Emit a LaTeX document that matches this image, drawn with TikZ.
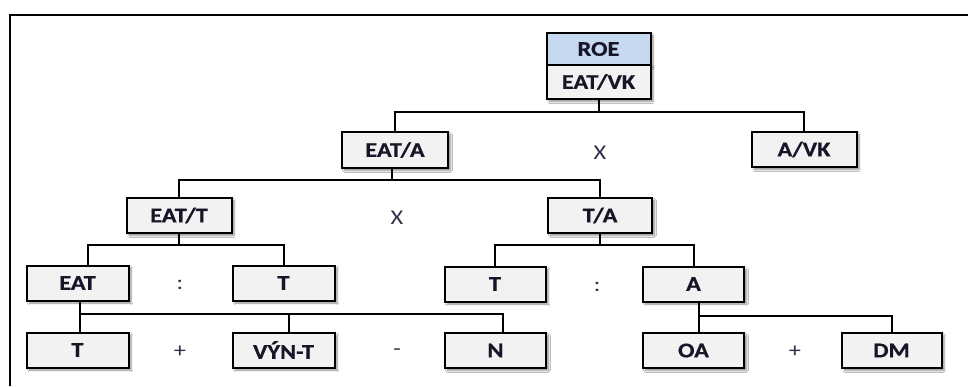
\documentclass[tikz,border=0pt]{standalone}
\usepackage{fontspec}
\setmainfont{Carlito}[FakeStretch=1.16, BoldFeatures={FakeBold=0.6}]
\usetikzlibrary{shadows.blur}
\definecolor{boxfill}{HTML}{F2F2F2}
\definecolor{topfill}{HTML}{C6D9F1}
\definecolor{ink}{HTML}{161628}
\definecolor{opink}{HTML}{30304A}
\tikzset{
  kbox/.style={draw=black, line width=2pt, fill=boxfill, minimum width=104pt,
    minimum height=35pt, inner sep=0pt, text=ink,
    font=\fontsize{21}{22}\selectfont\bfseries,
    blur shadow={shadow xshift=2.5pt, shadow yshift=-2.5pt, shadow opacity=45, shadow blur steps=6}},
  opr/.style={text=opink, font=\fontsize{21}{22}\selectfont, inner sep=0pt},
  link/.style={draw=black, line width=2pt}
}
\begin{document}
\begin{tikzpicture}[x=1pt, y=-1pt]
  \useasboundingbox (0,0) rectangle (968,386);
  \fill[white] (0,0) rectangle (968,386);
  % outer frame (left and top edges)
  \draw[line width=2pt] (10,386) -- (10,15) -- (968,15);

  % top indicator
  \node[kbox, fill=topfill, minimum height=32pt] (roe) at (598.5,49) {ROE};
  \node[kbox, minimum height=34pt] (eatvk) at (598.5,82) {EAT/VK};

  % level 1
  \node[kbox, minimum width=106pt, minimum height=36pt] (eata) at (395,150) {EAT/A};
  \node[kbox, minimum width=105pt] (avk) at (804,149.5) {A/VK};

  % level 2
  \node[kbox, minimum width=105pt] (eatt) at (179,215.5) {EAT/T};
  \node[kbox] (ta) at (600,215.5) {T/A};

  % level 3
  \node[kbox, minimum width=102pt] (eat) at (77.5,283) {EAT};
  \node[kbox, minimum width=102pt] (tl) at (283.5,283) {T};
  \node[kbox, minimum width=101pt] (tr) at (495,284) {T};
  \node[kbox, minimum width=101pt] (a) at (693.5,284) {A};

  % level 4
  \node[kbox, minimum width=102pt] (t4) at (77.5,350) {T};
  \node[kbox, minimum width=102pt] (vynt) at (283.5,350) {VÝN-T};
  \node[kbox, minimum width=101pt] (n) at (495.5,350.5) {N};
  \node[kbox, minimum width=101pt] (oa) at (693.5,350.5) {OA};
  \node[kbox, minimum width=100pt] (dm) at (891.5,350.5) {DM};

  % operators
  \node[opr] (x1) at (600,153) {X};
  \node[opr] (x2) at (397,218) {X};
  \node[opr] (c1) at (180,285) {:};
  \node[opr] (c2) at (597,287) {:};
  \node[opr] (p1) at (180,352) {+};
  \node[opr] (m1) at (397,352) {-};
  \node[opr] (p2) at (795,352) {+};

  % connectors
  \coordinate (b1) at (0,112);
  \draw[link] (eatvk.south) -- (eatvk.south |- b1);
  \draw[link] (eata.north) |- (b1 -| avk.north) -- (avk.north);

  \coordinate (b2) at (0,180);
  \draw[link] ([xshift=-3pt]eata.south) -- ([xshift=-3pt]eata.south |- b2);
  \draw[link] (eatt.north) |- (b2 -| ta.north) -- (ta.north);

  \coordinate (b3) at (0,245);
  \draw[link] (eatt.south) -- (eatt.south |- b3);
  \draw[link] ([xshift=10pt]eat.north) |- (b3 -| tl.north) -- (tl.north);

  \draw[link] (ta.south) -- (ta.south |- b3);
  \draw[link] (tr.north) |- (b3 -| a.north) -- (a.north);

  \coordinate (b4) at (0,313.5);
  \draw[link] ([xshift=2.5pt]eat.south) -- ([xshift=2.5pt]t4.north);
  \draw[link] ([xshift=2.5pt]eat.south |- b4) -- ([xshift=7.5pt]n.north |- b4) -- ([xshift=7.5pt]n.north);
  \draw[link] ([xshift=5.5pt]vynt.north) -- ([xshift=5.5pt]vynt.north |- b4);

  \coordinate (b5) at (0,315.5);
  \draw[link] ([xshift=5.5pt]a.south) -- ([xshift=5.5pt]oa.north);
  \draw[link] ([xshift=5.5pt]a.south |- b5) -| (dm.north);
\end{tikzpicture}
\end{document}
